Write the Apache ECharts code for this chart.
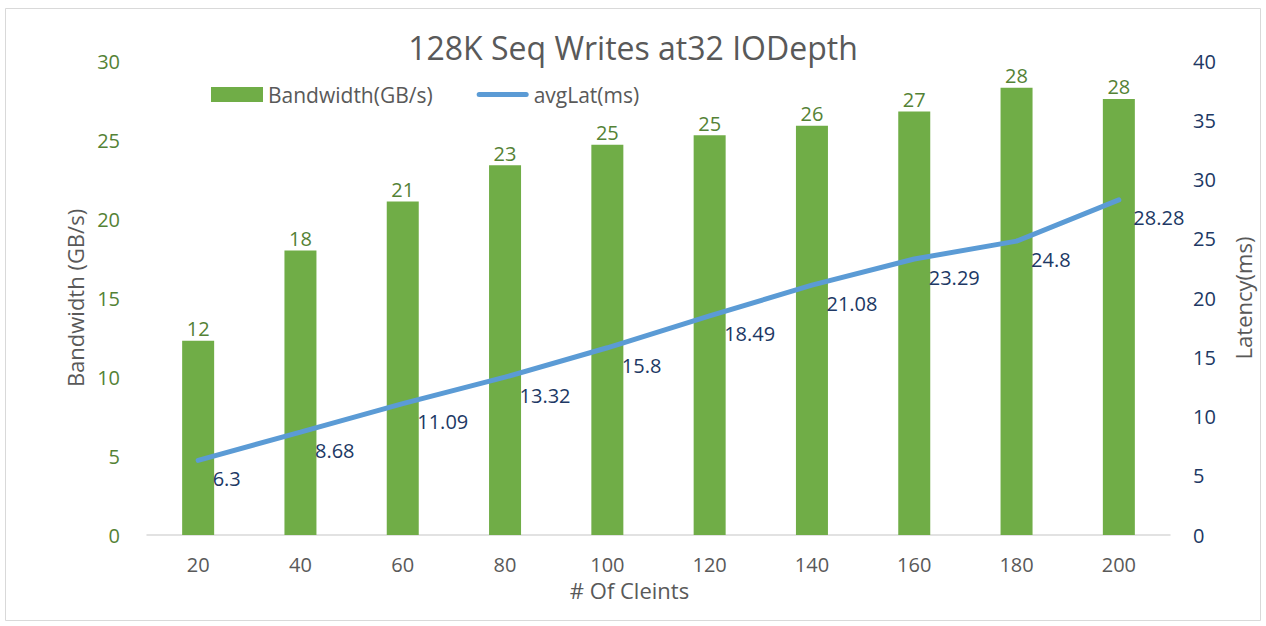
<!DOCTYPE html>
<html>
<head>
<meta charset="utf-8">
<script src="https://cdn.jsdelivr.net/npm/echarts@6/dist/echarts.min.js"></script>
<style>
  html, body { margin: 0; padding: 0; background: #fff; }
  #chart { width: 1266px; height: 626px; }
</style>
</head>
<body>
<div id="chart"></div>
<script>
var clients = ['20', '40', '60', '80', '100', '120', '140', '160', '180', '200'];
var bandwidth = [12.3, 18.0, 21.1, 23.4, 24.7, 25.3, 25.9, 26.8, 28.3, 27.6];
var avgLat = [6.3, 8.68, 11.09, 13.32, 15.8, 18.49, 21.08, 23.29, 24.8, 28.28];

var green = '#70ad47';
var greenText = '#548235';
var blue = '#5b9bd5';
var navy = '#203864';
var grey = '#595959';
var font = 'Open Sans';

var chart = echarts.init(document.getElementById('chart'), null, { renderer: 'svg' });

chart.setOption({
  backgroundColor: '#fff',
  animation: false,
  textStyle: { fontFamily: font },
  graphic: [{
    type: 'rect',
    shape: { x: 5.5, y: 8.5, width: 1255, height: 612 },
    style: { fill: 'none', stroke: '#d9d9d9', lineWidth: 1 },
    silent: true
  }],
  title: {
    text: '128K Seq Writes at32 IODepth',
    left: 'center',
    top: 26,
    textStyle: { color: grey, fontSize: 32, fontWeight: 'normal', fontFamily: font }
  },
  legend: {
    left: 206,
    top: 79,
    itemGap: 44,
    itemWidth: 52,
    itemHeight: 15,
    symbolKeepAspect: true,
    textStyle: { color: grey, fontSize: 21, fontFamily: font },
    data: [
      { name: 'Bandwidth(GB/s)', icon: 'rect' },
      { name: 'avgLat(ms)', icon: 'path://M2.5,0 L49.5,0 A2.5,2.5 0 0 1 49.5,5 L2.5,5 A2.5,2.5 0 0 1 2.5,0 Z' }
    ]
  },
  grid: { left: 147, right: 96, top: 61, bottom: 91 },
  xAxis: {
    type: 'category',
    data: clients,
    name: '# Of Cleints',
    nameLocation: 'middle',
    nameGap: 42,
    nameTextStyle: { color: grey, fontSize: 22, padding: [0, 58, 0, 0] },
    axisLine: { lineStyle: { color: '#d9d9d9', width: 1.5 } },
    axisTick: { show: false },
    axisLabel: { color: grey, fontSize: 20, margin: 19 }
  },
  yAxis: [
    {
      type: 'value',
      min: 0, max: 30, interval: 5,
      name: 'Bandwidth (GB/s)',
      nameLocation: 'middle',
      nameGap: 60,
      nameRotate: 90,
      nameTextStyle: { color: grey, fontSize: 22 },
      axisLine: { show: false },
      axisTick: { show: false },
      splitLine: { show: false },
      axisLabel: { color: greenText, fontSize: 20, margin: 27 }
    },
    {
      type: 'value',
      min: 0, max: 40, interval: 5,
      name: 'Latency(ms)',
      nameLocation: 'middle',
      nameGap: 62,
      nameRotate: 90,
      nameTextStyle: { color: grey, fontSize: 22 },
      axisLine: { show: false },
      axisTick: { show: false },
      splitLine: { show: false },
      axisLabel: { color: navy, fontSize: 20, margin: 23 }
    }
  ],
  series: [
    {
      name: 'Bandwidth(GB/s)',
      type: 'bar',
      data: bandwidth,
      barWidth: 32,
      itemStyle: { color: green },
      label: {
        show: true,
        position: 'top',
        distance: 2,
        color: greenText,
        fontSize: 20,
        formatter: function(p) { return Math.round(p.value); }
      }
    },
    {
      name: 'avgLat(ms)',
      type: 'line',
      yAxisIndex: 1,
      data: avgLat,
      symbol: 'none',
      lineStyle: { color: blue, width: 5, cap: 'round' },
      itemStyle: { color: blue }
    },
    {
      // value labels of the latency line
      name: 'latLabels',
      type: 'scatter',
      yAxisIndex: 1,
      data: avgLat,
      symbolSize: 1,
      itemStyle: { color: 'rgba(0,0,0,0)', opacity: 1 },
      silent: true,
      label: {
        show: true,
        position: 'right',
        distance: 5,
        offset: [9, 18],
        color: navy,
        opacity: 1,
        fontSize: 20
      }
    }
  ]
});
</script>
</body>
</html>
